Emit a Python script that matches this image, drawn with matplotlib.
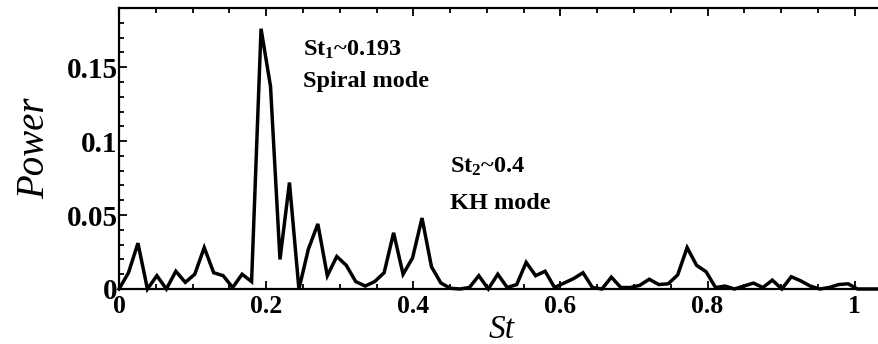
import numpy as np
import matplotlib
matplotlib.use("Agg")
import matplotlib.pyplot as plt
from matplotlib.ticker import MultipleLocator

# Power spectrum, frequency bin width in Strouhal number
d_st = 0.01287
power = [
    0.000, 0.011, 0.031, 0.000, 0.009, 0.000, 0.012, 0.0045, 0.010, 0.028,
    0.011, 0.009, 0.001, 0.010, 0.005, 0.176, 0.137, 0.020, 0.072, 0.000,
    0.027, 0.044, 0.009, 0.022, 0.016, 0.005, 0.002, 0.005, 0.011, 0.038,
    0.010, 0.021, 0.048, 0.015, 0.004, 0.0005, 0.000, 0.001, 0.009, 0.000,
    0.010, 0.001, 0.003, 0.018, 0.009, 0.012, 0.001, 0.004, 0.007, 0.011,
    0.001, 0.000, 0.008, 0.001, 0.001, 0.0025, 0.0066, 0.003, 0.0035, 0.0095,
    0.028, 0.016, 0.0117, 0.001, 0.002, 0.000, 0.002, 0.004, 0.001, 0.006,
    0.000, 0.0083, 0.0055, 0.002, 0.000, 0.001, 0.003, 0.0035, 0.000, 0.000,
    0.000,
]
st = np.arange(len(power)) * d_st

x_ticks = [0, 0.2, 0.4, 0.6, 0.8, 1.0]
x_tick_labels = ["0", "0.2", "0.4", "0.6", "0.8", "1"]
y_ticks = [0, 0.05, 0.1, 0.15]
y_tick_labels = ["0", "0.05", "0.1", "0.15"]

plt.rcParams.update({
    "font.family": "Liberation Serif",
    "mathtext.fontset": "custom",
    "mathtext.bf": "Liberation Serif:bold",
    "mathtext.rm": "Liberation Serif:bold",
    "mathtext.default": "bf",
})

fig = plt.figure(figsize=(8.79, 3.44), dpi=100)
ax = fig.add_axes([0.1354, 0.1599, 0.8646, 0.8168])

ax.plot(st, power, color="black", linewidth=2.5, solid_joinstyle="miter",
        clip_on=False, zorder=3)

ax.set_xlim(0, 1.033)
ax.set_ylim(0, 0.19)

ax.set_xticks(x_ticks)
ax.set_xticklabels(x_tick_labels, fontsize=18.5, fontweight="bold")
ax.set_yticks(y_ticks)
ax.set_yticklabels(y_tick_labels, fontsize=21, fontweight="bold")
ax.xaxis.set_minor_locator(MultipleLocator(0.05))
ax.yaxis.set_minor_locator(MultipleLocator(0.01))

ax.tick_params(which="both", direction="in", top=True, right=False, width=1.3)
ax.tick_params(which="major", length=6)
ax.tick_params(which="minor", length=3.5)
ax.tick_params(axis="x", pad=4)
ax.tick_params(axis="y", pad=1)

for side in ["left", "top", "bottom"]:
    ax.spines[side].set_linewidth(1.6)
ax.spines["right"].set_visible(False)

ax.set_ylabel("Power", fontsize=28, fontstyle="italic")
ax.yaxis.set_label_coords(-0.087, 0.50)
ax.set_xlabel("St", fontsize=24, fontstyle="italic")
ax.xaxis.set_label_coords(0.503, -0.09)

ax.text(0.25, 0.158, r"St$_1$~0.193", fontsize=17.5, fontweight="bold", va="baseline")
ax.text(0.25, 0.1367, "Spiral mode", fontsize=17.5, fontweight="bold", va="baseline")
ax.text(0.45, 0.0786, r"St$_2$~0.4", fontsize=17.5, fontweight="bold", va="baseline")
ax.text(0.45, 0.054, "KH mode", fontsize=17.5, fontweight="bold", va="baseline")

fig.savefig("out.png", dpi=100)
